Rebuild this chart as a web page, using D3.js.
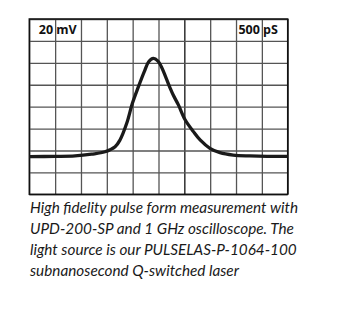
<!DOCTYPE html>
<html>
<head>
<meta charset="utf-8">
<script src="https://cdn.jsdelivr.net/npm/d3@7"></script>
<style>
  body { margin: 0; background: #fff; }
  svg { display: block; }
</style>
</head>
<body>
<svg id="chart" width="346" height="322"></svg>
<script>
// time in divisions (500 pS/div), voltage in divisions (20 mV/div) from bottom
let pulseT = [0, 1.0, 1.77, 2.41, 2.93, 3.32, 3.51, 3.77, 3.99, 4.22, 4.45, 4.62, 4.80, 4.98, 5.12, 5.28, 5.45, 5.57, 5.77, 6.03, 6.35, 6.61, 6.99, 7.38, 7.89, 8.54, 9.2, 10];
let pulseV = [1.72, 1.73, 1.75, 1.83, 1.94, 2.17, 2.48, 3.24, 4.15, 4.9, 5.6, 6.05, 6.20, 6.08, 5.8, 5.35, 4.85, 4.53, 4.08, 3.40, 2.86, 2.48, 2.10, 1.90, 1.79, 1.75, 1.73, 1.73];

let xTicks = d3.range(0, 11);
let yTicks = d3.range(0, 9);

let scaleLabels = [
  {value: "20", unit: "mV", div: 1},
  {value: "500", unit: "pS", div: 9}
];

let caption = [
  "High fidelity pulse form measurement with",
  "UPD-200-SP and 1 GHz oscilloscope. The",
  "light source is our PULSELAS-P-1064-100",
  "subnanosecond Q-switched laser"
];

let svg = d3.select("#chart");
let gLeft = 29.3, gRight = 287.7, gTop = 19, gBottom = 194.3;

let x = d3.scaleLinear().domain([0, 10]).range([gLeft, gRight]);
let y = d3.scaleLinear().domain([0, 8]).range([gBottom, gTop]);

// grid
let gx = svg.append("g")
  .attr("transform", "translate(0," + gBottom + ")")
  .call(d3.axisBottom(x).tickValues(xTicks).tickSize(-(gBottom - gTop)).tickFormat(""));
gx.select(".domain").remove();
gx.selectAll("line")
  .attr("stroke", d => d == 6 ? "#111" : "#555")
  .attr("stroke-width", 1.3);

let gy = svg.append("g")
  .attr("transform", "translate(" + gLeft + ",0)")
  .call(d3.axisLeft(y).tickValues(yTicks).tickSize(-(gRight - gLeft)).tickFormat(""));
gy.select(".domain").remove();
gy.selectAll("line")
  .attr("stroke", "#555")
  .attr("stroke-width", 1.3);

svg.append("rect")
  .attr("x", gLeft).attr("y", gTop)
  .attr("width", gRight - gLeft).attr("height", gBottom - gTop)
  .attr("fill", "none").attr("stroke", "#111").attr("stroke-width", 1.5);

// pulse
let pts = pulseT.map((t, i) => [t, pulseV[i]]);
let line = d3.line()
  .x(d => x(d[0]))
  .y(d => y(d[1]))
  .curve(d3.curveCatmullRom.alpha(0.5));

svg.append("path")
  .datum(pts)
  .attr("d", line)
  .attr("fill", "none")
  .attr("stroke", "#1a1a1a")
  .attr("stroke-width", 3.3)
  .attr("stroke-linejoin", "round");

// scale labels
let lab = svg.append("g")
  .attr("font-family", "'Open Sans', sans-serif")
  .attr("font-weight", "bold")
  .attr("font-size", 12.5)
  .attr("fill", "#111");

lab.selectAll(".val").data(scaleLabels).enter()
  .append("text").attr("class", "val")
  .attr("x", d => x(d.div) - 2)
  .attr("y", 33.5)
  .attr("text-anchor", "end")
  .text(d => d.value);

lab.selectAll(".unit").data(scaleLabels).enter()
  .append("text").attr("class", "unit")
  .attr("x", d => x(d.div) + 1.2)
  .attr("y", 33.5)
  .text(d => d.unit);

// caption
svg.append("g")
  .attr("font-family", "Lato, sans-serif")
  .attr("font-style", "italic")
  .attr("font-size", 15.3)
  .attr("fill", "#1a1a1a")
  .selectAll("text").data(caption).enter()
  .append("text")
  .attr("x", 30)
  .attr("y", (d, i) => 212.5 + i * 21.2)
  .text(d => d);
</script>
</body>
</html>
